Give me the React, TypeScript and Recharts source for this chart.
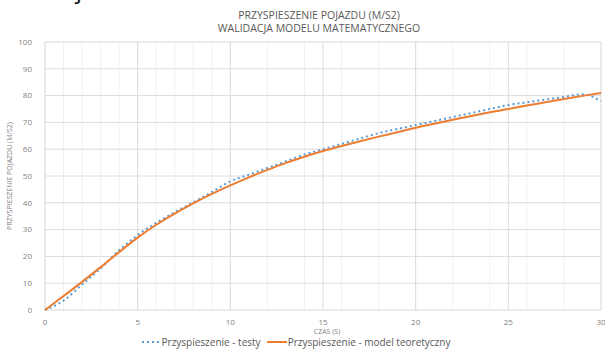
import { LineChart, Line, XAxis, YAxis, CartesianGrid, Legend } from "recharts";

const time = [0, 1, 2, 3, 4, 5, 6, 7, 8, 9, 10, 11, 12, 13, 14, 15, 16, 17, 18, 19, 20, 21, 22, 23, 24, 25, 26, 27, 28, 29, 30];
const testValues = [0, 3.5, 9.5, 15.5, 22.3, 28, 32.5, 36.5, 40.2, 44, 48, 50.5, 53, 55.5, 58, 60, 62, 64, 66, 67.5, 69, 70.5, 72, 73.5, 75, 76.5, 77.5, 78.5, 79.5, 80.5, 78];
const modelValues = [0, 5.2, 10.5, 16, 21.6, 27, 31.8, 36, 39.8, 43.3, 46.5, 49.5, 52.3, 54.9, 57.2, 59.3, 61.2, 63, 64.7, 66.3, 68, 69.5, 71, 72.4, 73.8, 75, 76.3, 77.5, 78.7, 79.9, 81];

const xTicks = [0, 5, 10, 15, 20, 25, 30];
const yTicks = [0, 10, 20, 30, 40, 50, 60, 70, 80, 90, 100];
const xMinorTicks = [0, 1, 2, 3, 4, 5, 6, 7, 8, 9, 10, 11, 12, 13, 14, 15, 16, 17, 18, 19, 20, 21, 22, 23, 24, 25, 26, 27, 28, 29, 30];
const yMinorTicks = [0, 2, 4, 6, 8, 10, 12, 14, 16, 18, 20, 22, 24, 26, 28, 30, 32, 34, 36, 38, 40, 42, 44, 46, 48, 50, 52, 54, 56, 58, 60, 62, 64, 66, 68, 70, 72, 74, 76, 78, 80, 82, 84, 86, 88, 90, 92, 94, 96, 98, 100];

const data = time.map((t, i) => ({ t, test: testValues[i], model: modelValues[i] }));

const FONT = "'Open Sans', 'Liberation Sans', sans-serif";
const TEXT = "#7f7f7f";

function LegendBox() {
  return (
    <div style={{ display: "flex", justifyContent: "center", gap: 6, fontFamily: FONT, fontSize: 10, color: "#595959", height: 14, lineHeight: "14px", paddingRight: 10 }}>
      <span style={{ display: "flex", alignItems: "center" }}>
        <svg width={18} height={6} style={{ marginRight: 3 }}>
          <line x1={1} y1={3} x2={18} y2={3} stroke="#5b9bd5" strokeWidth={2} strokeDasharray="2 3" />
        </svg>
        Przyspieszenie - testy
      </span>
      <span style={{ display: "flex", alignItems: "center" }}>
        <svg width={20} height={6} style={{ marginRight: 1 }}>
          <line x1={0} y1={3} x2={20} y2={3} stroke="#ed7d31" strokeWidth={2} />
        </svg>
        Przyspieszenie - model teoretyczny
      </span>
    </div>
  );
}

export default function App() {
  return (
    <div style={{ position: "absolute", left: 0, top: 0, width: 605, height: 349, background: "#fff" }}>
      <LineChart width={605} height={349} data={data} margin={{ top: 42, right: 4, left: 0, bottom: 0 }}>
        <text x={76} y={-2} fontSize={24} fill="#111" fontFamily={FONT}>j</text>
        <text x={319} y={19} textAnchor="middle" fontSize={10.5} fill="#595959" fontFamily={FONT}>PRZYSPIESZENIE POJAZDU (M/S2)</text>
        <text x={319} y={32} textAnchor="middle" fontSize={10.5} fill="#595959" fontFamily={FONT}>WALIDACJA MODELU MATEMATYCZNEGO</text>
        <XAxis xAxisId="minor" dataKey="t" type="number" domain={[0, 30]} ticks={xMinorTicks} hide />
        <YAxis yAxisId="minor" type="number" domain={[0, 100]} ticks={yMinorTicks} hide />
        <CartesianGrid xAxisId="minor" yAxisId="minor" stroke="#f1f1f1" strokeWidth={1} />
        <CartesianGrid stroke="#dcdcdc" strokeWidth={1} />
        <XAxis
          dataKey="t"
          type="number"
          domain={[0, 30]}
          ticks={xTicks}
          axisLine={false}
          tickLine={false}
          tickMargin={3}
          height={25}
          tick={{ fontSize: 8, fill: TEXT, fontFamily: FONT }}
          label={{ value: "CZAS (S)", position: "insideBottom", offset: 1, fontSize: 7, fill: TEXT, fontFamily: FONT, dx: 4 }}
        />
        <YAxis
          type="number"
          domain={[0, 100]}
          ticks={yTicks}
          width={45}
          axisLine={false}
          tickLine={false}
          tickMargin={7}
          tick={{ fontSize: 8, fill: TEXT, fontFamily: FONT }}
          label={{ value: "PRZYSPIESZENIE POJAZDU (M/S2)", angle: -90, position: "insideLeft", offset: 10, fontSize: 7, fill: TEXT, fontFamily: FONT, style: { textAnchor: "middle" } }}
        />
        <Legend verticalAlign="bottom" align="center" content={() => <LegendBox />} />
        <Line type="monotone" dataKey="test" stroke="#5b9bd5" strokeWidth={2} strokeDasharray="2 3" dot={false} isAnimationActive={false} />
        <Line type="monotone" dataKey="model" stroke="#ed7d31" strokeWidth={2} dot={false} isAnimationActive={false} />
      </LineChart>
    </div>
  );
}
